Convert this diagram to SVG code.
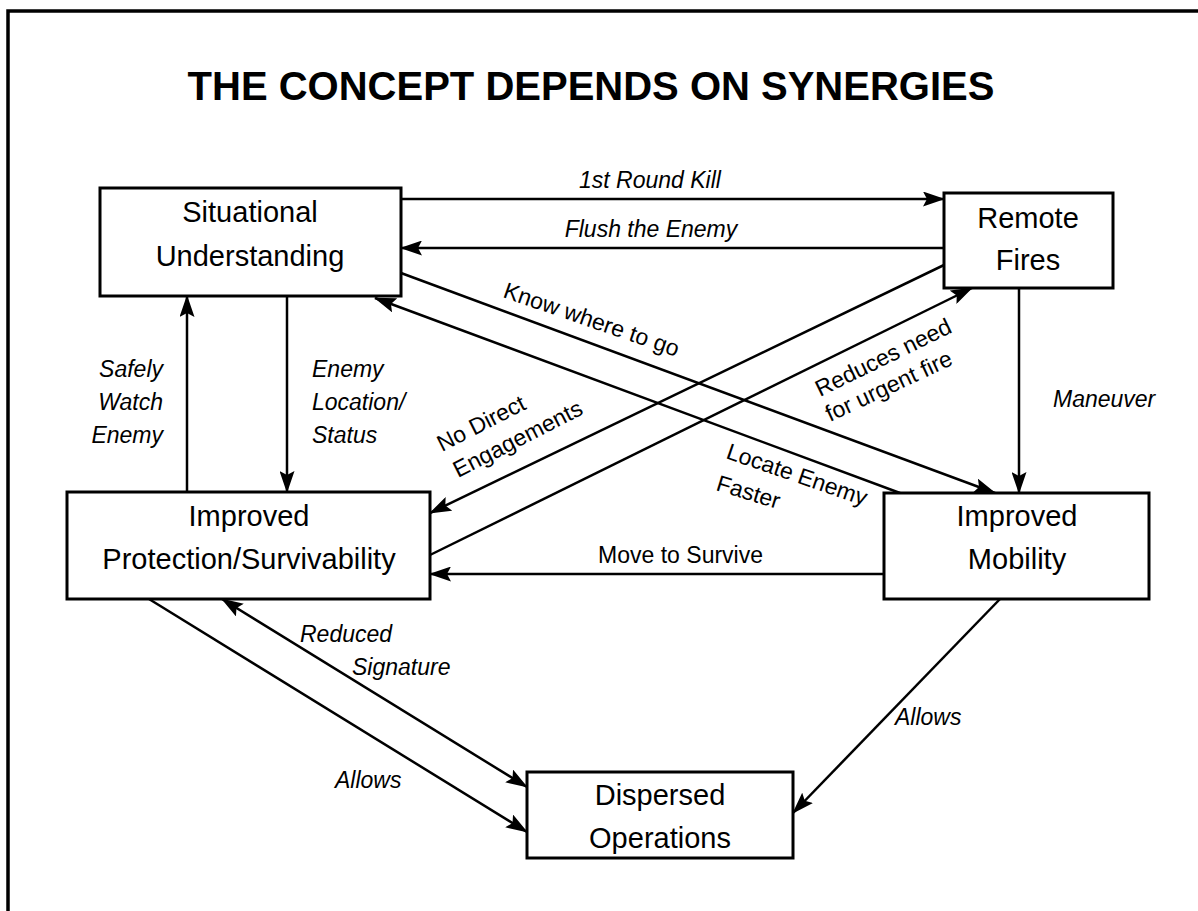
<svg xmlns="http://www.w3.org/2000/svg" width="1198" height="911" viewBox="0 0 1198 911">
<style>
.box{fill:#fff;stroke:#000;stroke-width:3}
.node{font-family:"Liberation Sans",Arial,sans-serif;font-size:29px;text-anchor:middle;fill:#000}
.lab{font-family:"Liberation Sans",Arial,sans-serif;font-size:23px;font-style:italic;fill:#000}
.rlab{font-family:"Liberation Sans",Arial,sans-serif;font-size:23px;fill:#000}
.c{fill:none;stroke:#000;stroke-width:2.5;marker-end:url(#ah)}
</style>
<defs>
<marker id="ah" viewBox="0 0 22 15" markerWidth="22" markerHeight="15" refX="21" refY="7.5" orient="auto-start-reverse" markerUnits="userSpaceOnUse">
<path d="M0,0 L22,7.5 L0,15 L4,7.5 z" fill="#000"/>
</marker>
</defs>
<rect x="0" y="0" width="1198" height="911" fill="#fff"/>
<path d="M8,911 V11 H1198" fill="none" stroke="#000" stroke-width="3.5"/>
<text x="591" y="100" font-family="Liberation Sans,Arial,sans-serif" font-size="40" font-weight="bold" text-anchor="middle">THE CONCEPT DEPENDS ON SYNERGIES</text>

<g id="connectors">
<path class="c" d="M401,199 H944"/>
<path class="c" d="M944,248 H401"/>
<path class="c" d="M401,273 L995,493"/>
<path class="c" d="M900,493 L375,298"/>
<path class="c" d="M944,265 L430,513"/>
<path class="c" d="M430,555 L972,288"/>
<path class="c" d="M187,492 V296"/>
<path class="c" d="M287,296 V492"/>
<path class="c" d="M1019,288 V493"/>
<path class="c" d="M884,574 H430"/>
<path class="c" d="M149,599 L527,832"/>
<path class="c" d="M222,599 L527,787" marker-start="url(#ah)"/>
<path class="c" d="M1000,599 L793,813"/>

<text class="lab" x="650" y="188" text-anchor="middle">1st Round Kill</text>
<text class="lab" x="651" y="237" text-anchor="middle">Flush the Enemy</text>
<text class="rlab" transform="translate(502,297) rotate(19)">Know where to go</text>
<text class="lab" text-anchor="end"><tspan x="163" y="377">Safely</tspan><tspan x="163" y="410">Watch</tspan><tspan x="163" y="443">Enemy</tspan></text>
<text class="lab"><tspan x="312" y="377">Enemy</tspan><tspan x="312" y="410">Location/</tspan><tspan x="312" y="443">Status</tspan></text>
<text class="rlab" transform="translate(442,452) rotate(-27)">No Direct</text>
<text class="rlab" transform="translate(458,478) rotate(-27)">Engagements</text>
<text class="rlab" transform="translate(820,397) rotate(-26)">Reduces need</text>
<text class="rlab" transform="translate(830,422) rotate(-25)">for urgent fire</text>
<text class="lab" x="1053" y="407">Maneuver</text>
<text class="rlab" transform="translate(725,458) rotate(19)">Locate Enemy</text>
<text class="rlab" transform="translate(715,490) rotate(17)">Faster</text>
<text class="rlab" x="763" y="563" text-anchor="end" font-size="22">Move to Survive</text>
<text class="lab" x="300" y="642">Reduced</text>
<text class="lab" x="352" y="675">Signature</text>
<text class="lab" x="335" y="788">Allows</text>
<text class="lab" x="895" y="725">Allows</text>
</g>

<g id="situational">
<rect class="box" x="100" y="188" width="301" height="108"/>
<text class="node" x="250" y="222">Situational</text>
<text class="node" x="250" y="266">Understanding</text>
</g>
<g id="remote">
<rect class="box" x="944" y="193" width="169" height="95"/>
<text class="node" x="1028" y="228">Remote</text>
<text class="node" x="1028" y="270">Fires</text>
</g>
<g id="protection">
<rect class="box" x="67" y="492" width="363" height="107"/>
<text class="node" x="249" y="526">Improved</text>
<text class="node" x="249" y="569">Protection/Survivability</text>
</g>
<g id="mobility">
<rect class="box" x="884" y="493" width="265" height="106"/>
<text class="node" x="1017" y="526">Improved</text>
<text class="node" x="1017" y="569">Mobility</text>
</g>
<g id="dispersed">
<rect class="box" x="527" y="772" width="266" height="86"/>
<text class="node" x="660" y="805">Dispersed</text>
<text class="node" x="660" y="848">Operations</text>
</g>
</svg>
